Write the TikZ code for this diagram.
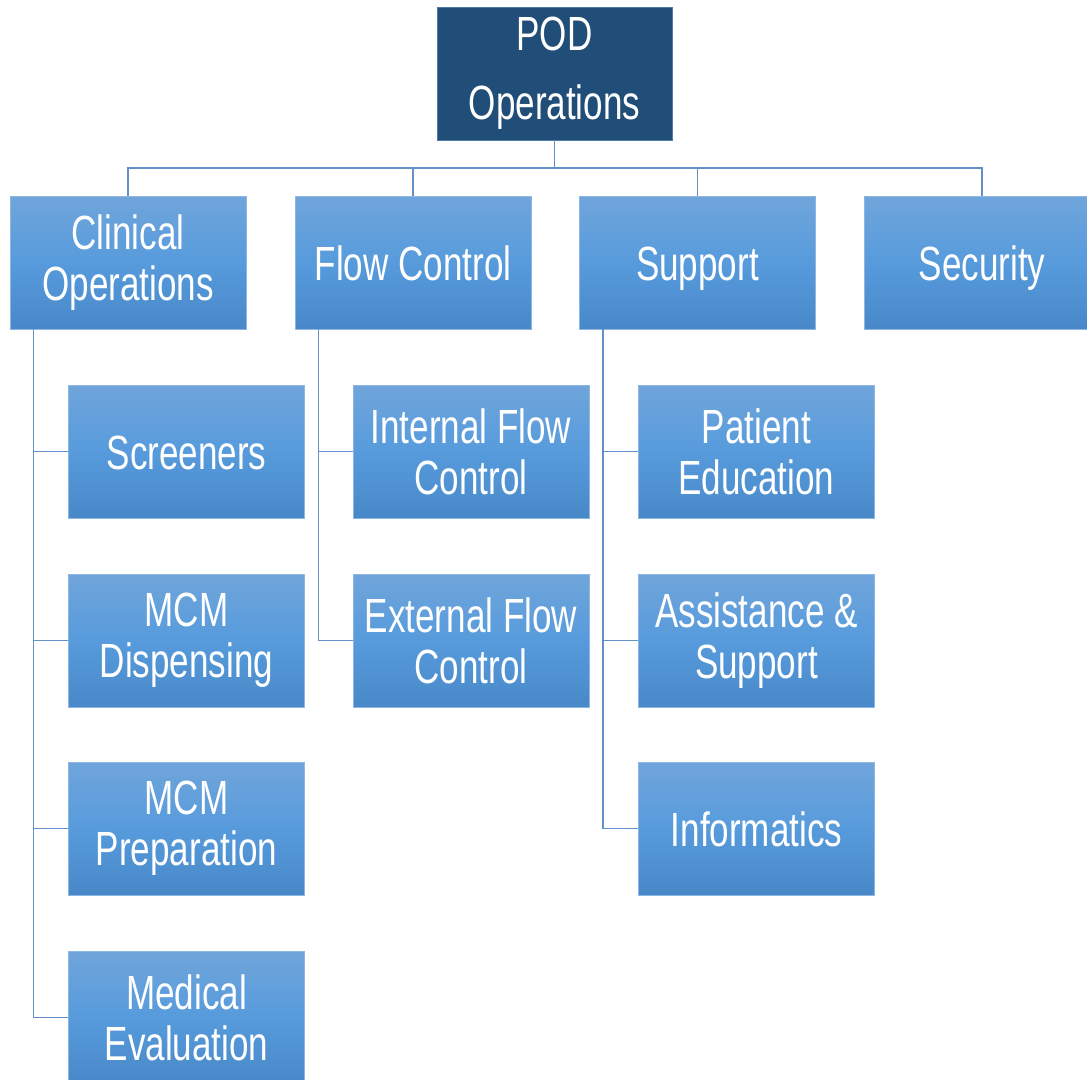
\documentclass[tikz,border=0pt]{standalone}
\usepackage{fontspec}
\setmainfont{Liberation Sans}[FakeStretch=0.73]
\begin{document}
\begin{tikzpicture}[x=1pt,y=-1pt,
  every node/.style={font=\fontsize{48}{51}\selectfont, text=white, align=center, inner sep=0pt},
  unit/.style={rectangle, minimum width=236pt, minimum height=133pt,
    top color=boxtop, bottom color=boxbot, middle color=boxmid, draw=boxedge, line width=0.8pt},
  oneline/.style={text height=35pt, text depth=0pt},
  head/.style={rectangle, minimum width=235pt, minimum height=133pt,
    fill=navy, draw=navyedge, line width=0.8pt},
  conn/.style={draw=linkblue, line width=1.5pt}]
\definecolor{boxtop}{HTML}{70A5DB}
\definecolor{boxmid}{HTML}{579BDC}
\definecolor{boxbot}{HTML}{4888C8}
\definecolor{boxedge}{HTML}{8DB6E2}
\definecolor{navy}{HTML}{214E78}
\definecolor{navyedge}{HTML}{4F7AA6}
\definecolor{linkblue}{HTML}{6490C8}

\fill[white] (0,0) rectangle (1087,1079);
\useasboundingbox (0,0) rectangle (1087,1079);

% top of the hierarchy
\node[head] (pod) at (554.5,73.5) {POD\\[18pt]Operations};

% second level
\node[unit] (clin) at (128,262.5) {Clinical\\Operations};
\node[unit,oneline] (flow) at (413,262.5) {Flow Control};
\node[unit,oneline] (supp) at (697.5,262.5) {Support};
\node[unit,oneline] (sec)  at (982,262.5) {Security};

% clinical operations branch
\node[unit,oneline] (scr)  at (186.5,451.5)  {Screeners};
\node[unit] (disp) at (186.5,640.5)  {MCM\\Dispensing};
\node[unit] (prep) at (186.5,828.5)  {MCM\\Preparation};
\node[unit] (eval) at (186.5,1017.5) {Medical\\Evaluation};

% flow control branch
\node[unit] (iflow) at (471,451.5) {Internal Flow\\Control};
\node[unit] (eflow) at (471,640.5) {External Flow\\Control};

% support branch
\node[unit] (edu)  at (756.5,451.5) {Patient\\Education};
\node[unit] (asst) at (756.5,640.5) {Assistance \&\\Support};
\node[unit,oneline] (info) at (756.5,828.5) {Informatics};

% connectors from the top box
\coordinate (bus) at (0,168);
\foreach \n in {clin,flow,supp,sec}
  \draw[conn] (pod.south) -- (pod.south |- bus) -| (\n.north);

% side trunks to the child boxes
\foreach \p/\c in {clin/scr,clin/disp,clin/prep,clin/eval,
                   flow/iflow,flow/eflow,
                   supp/edu,supp/asst,supp/info}
  \draw[conn] ([xshift=24pt]\p.south west) |- (\c.west);
\end{tikzpicture}
\end{document}
